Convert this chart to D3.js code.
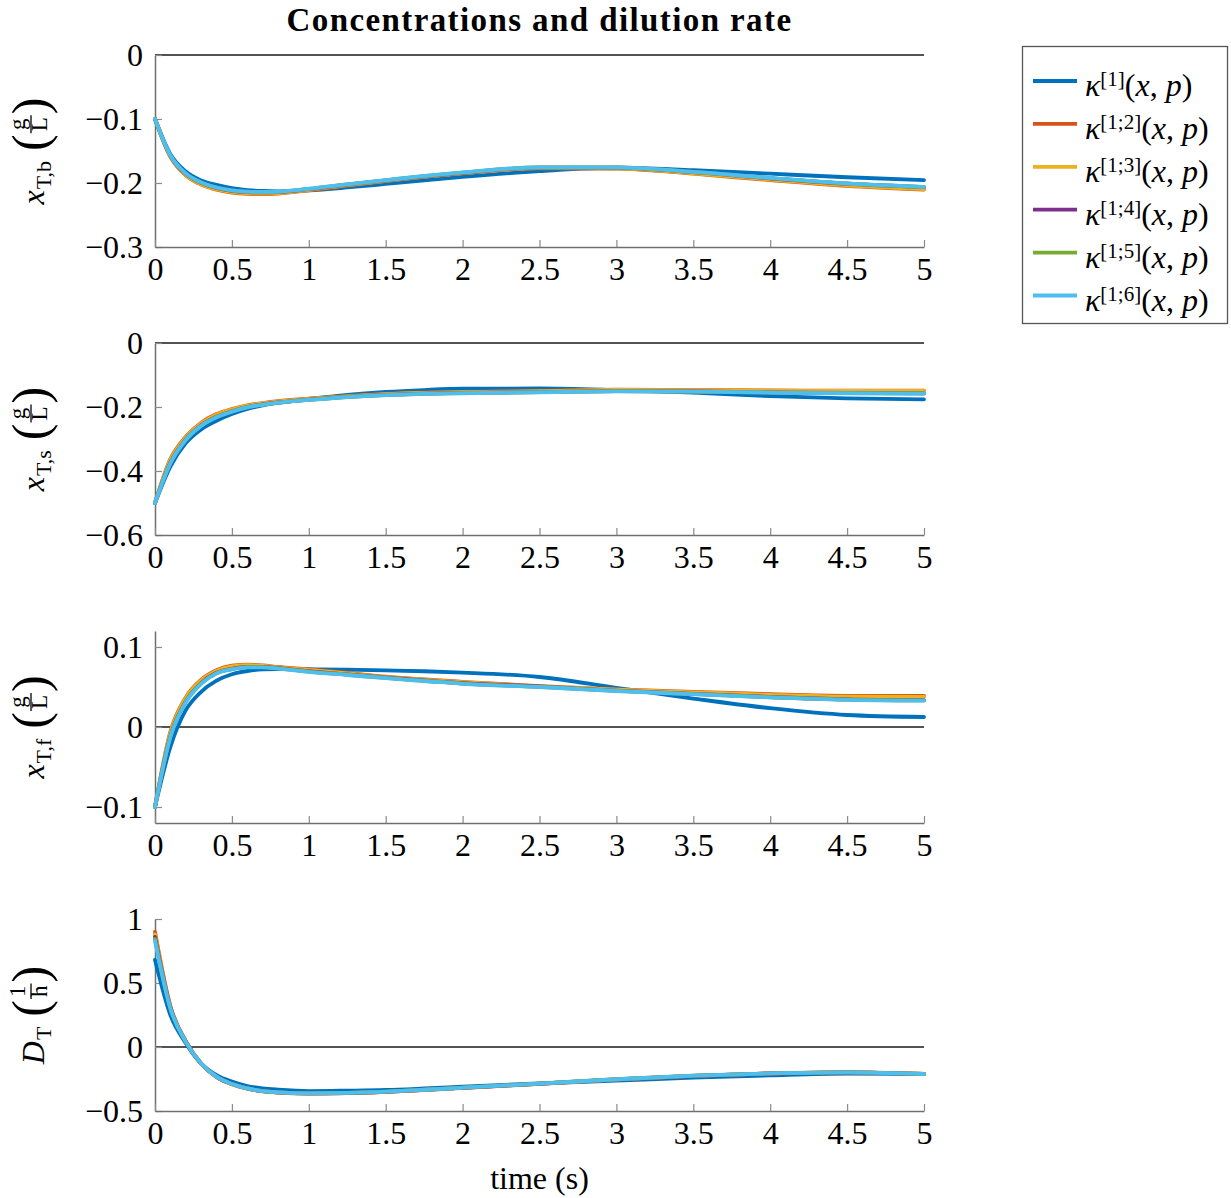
<!DOCTYPE html>
<html>
<head>
<meta charset="utf-8">
<script src="https://cdn.jsdelivr.net/npm/d3@7"></script>
<style>
  html, body { margin: 0; padding: 0; background: #fff; }
  svg { display: block; }
  text { font-family: "Liberation Serif", "Times New Roman", serif; fill: #000; }
</style>
</head>
<body>
<svg id="chart" width="1231" height="1198"></svg>
<script>
// Sample times (s)
const time = [0, 0.1, 0.2, 0.3, 0.4, 0.5, 0.6, 0.7, 0.8, 1.0, 1.25, 1.5, 1.75, 2.0, 2.5, 3.0, 3.5, 4.0, 4.5, 5.0];

// Controller labels (superscripts of kappa) and colours
const controllerTags = ["[1]", "[1;2]", "[1;3]", "[1;4]", "[1;5]", "[1;6]"];
const seriesColors = ["#0072BD", "#D95319", "#EDB120", "#7E2F8E", "#77AC30", "#4DBEEE"];

// x_T,b (g/L)
const xbK1  = [-0.100, -0.155, -0.182, -0.196, -0.203, -0.208, -0.211, -0.2125, -0.213, -0.2115, -0.207, -0.2015, -0.1958, -0.1905, -0.1815, -0.1760, -0.1800, -0.1855, -0.1910, -0.1955];
const xbK12 = [-0.100, -0.159, -0.188, -0.2025, -0.2105, -0.215, -0.217, -0.2175, -0.2165, -0.2115, -0.204, -0.197, -0.1905, -0.185, -0.177, -0.1775, -0.1855, -0.1955, -0.2045, -0.2105];
const xbK13 = [-0.100, -0.1585, -0.1875, -0.2018, -0.2098, -0.2142, -0.2162, -0.2167, -0.2158, -0.2108, -0.2034, -0.1965, -0.1900, -0.1846, -0.1767, -0.1771, -0.1848, -0.1947, -0.2036, -0.2096];
const xbK14 = [-0.100, -0.1575, -0.1857, -0.1996, -0.2076, -0.2121, -0.2141, -0.2146, -0.2141, -0.2096, -0.2026, -0.1961, -0.1896, -0.1841, -0.1761, -0.1761, -0.1831, -0.1926, -0.2011, -0.2066];
const xbK15 = [-0.100, -0.1572, -0.1853, -0.1993, -0.2073, -0.2118, -0.2138, -0.2143, -0.2138, -0.2093, -0.2023, -0.1958, -0.1893, -0.1838, -0.1758, -0.1758, -0.1828, -0.1923, -0.2008, -0.2063];
const xbK16 = [-0.100, -0.157, -0.185, -0.199, -0.207, -0.2115, -0.2135, -0.214, -0.2135, -0.209, -0.202, -0.1955, -0.189, -0.1835, -0.1755, -0.1755, -0.1825, -0.192, -0.2005, -0.206];

// x_T,s (g/L)
const xsK1  = [-0.5, -0.386, -0.313, -0.270, -0.243, -0.222, -0.206, -0.195, -0.187, -0.175, -0.162, -0.153, -0.147, -0.143, -0.142, -0.147, -0.155, -0.166, -0.173, -0.176];
const xsK12 = [-0.5, -0.363, -0.293, -0.249, -0.222, -0.2065, -0.195, -0.188, -0.182, -0.174, -0.166, -0.159, -0.155, -0.153, -0.150, -0.146, -0.147, -0.148, -0.149, -0.149];
const xsK13 = [-0.5, -0.366, -0.295, -0.251, -0.224, -0.208, -0.196, -0.189, -0.183, -0.175, -0.1665, -0.1598, -0.1558, -0.1538, -0.1508, -0.1468, -0.1478, -0.1490, -0.1500, -0.1500];
const xsK14 = [-0.5, -0.374, -0.3015, -0.2575, -0.2305, -0.2133, -0.2000, -0.1920, -0.1857, -0.1772, -0.1683, -0.1623, -0.1583, -0.1563, -0.1533, -0.1503, -0.1513, -0.1543, -0.1563, -0.1573];
const xsK15 = [-0.5, -0.375, -0.3022, -0.2582, -0.2312, -0.2140, -0.2005, -0.1925, -0.1861, -0.1776, -0.1687, -0.1627, -0.1587, -0.1567, -0.1537, -0.1507, -0.1517, -0.1547, -0.1567, -0.1577];
const xsK16 = [-0.5, -0.376, -0.303, -0.259, -0.232, -0.2146, -0.201, -0.193, -0.1865, -0.178, -0.169, -0.163, -0.159, -0.157, -0.154, -0.151, -0.152, -0.155, -0.157, -0.158];

// x_T,f (g/L)
const xfK1  = [-0.1, -0.025, 0.021, 0.044, 0.058, 0.066, 0.070, 0.072, 0.0724, 0.0722, 0.0716, 0.0708, 0.0697, 0.0680, 0.0625, 0.0490, 0.0356, 0.0235, 0.0150, 0.0125];
const xfK12 = [-0.1, -0.006, 0.037, 0.059, 0.071, 0.0766, 0.078, 0.077, 0.075, 0.072, 0.0675, 0.0628, 0.0595, 0.0565, 0.051, 0.047, 0.044, 0.041, 0.039, 0.039];
const xfK13 = [-0.1, -0.0075, 0.036, 0.058, 0.070, 0.0758, 0.0773, 0.0765, 0.0745, 0.0715, 0.0670, 0.0623, 0.0590, 0.0560, 0.0506, 0.0466, 0.0434, 0.0402, 0.0380, 0.0376];
const xfK14 = [-0.1, -0.0115, 0.032, 0.0548, 0.0677, 0.0727, 0.0751, 0.0751, 0.0736, 0.0697, 0.0657, 0.0616, 0.0581, 0.0547, 0.0506, 0.0455, 0.0415, 0.0375, 0.0345, 0.0335];
const xfK15 = [-0.1, -0.012, 0.0315, 0.0544, 0.0673, 0.0723, 0.0748, 0.0748, 0.0733, 0.0693, 0.0653, 0.0613, 0.0578, 0.0543, 0.0503, 0.0452, 0.0412, 0.0372, 0.0342, 0.0332];
const xfK16 = [-0.1, -0.0125, 0.031, 0.054, 0.067, 0.072, 0.0745, 0.0745, 0.073, 0.069, 0.065, 0.061, 0.0575, 0.054, 0.050, 0.045, 0.041, 0.037, 0.034, 0.033];

// D_T (1/h)
const dK1  = [0.68, 0.25, 0.030, -0.130, -0.220, -0.270, -0.305, -0.323, -0.333, -0.344, -0.341, -0.336, -0.324, -0.310, -0.284, -0.263, -0.240, -0.221, -0.208, -0.211];
const dK12 = [0.90, 0.32, 0.045, -0.130, -0.234, -0.290, -0.325, -0.346, -0.356, -0.364, -0.361, -0.351, -0.336, -0.320, -0.288, -0.254, -0.226, -0.207, -0.198, -0.211];
const dK13 = [0.88, 0.315, 0.044, -0.129, -0.233, -0.290, -0.324, -0.345, -0.355, -0.363, -0.360, -0.350, -0.335, -0.319, -0.287, -0.253, -0.225, -0.206, -0.197, -0.210];
const dK14 = [0.86, 0.31, 0.043, -0.129, -0.233, -0.289, -0.324, -0.345, -0.355, -0.363, -0.360, -0.350, -0.335, -0.319, -0.287, -0.253, -0.225, -0.207, -0.198, -0.211];
const dK15 = [0.845, 0.305, 0.042, -0.128, -0.232, -0.289, -0.323, -0.344, -0.354, -0.362, -0.359, -0.349, -0.334, -0.318, -0.286, -0.252, -0.224, -0.206, -0.198, -0.211];
const dK16 = [0.83, 0.30, 0.040, -0.128, -0.232, -0.289, -0.323, -0.344, -0.354, -0.362, -0.359, -0.349, -0.334, -0.318, -0.286, -0.252, -0.224, -0.206, -0.198, -0.211];

// Tick values and labels
const xTicks = [0, 0.5, 1, 1.5, 2, 2.5, 3, 3.5, 4, 4.5, 5];
const xTickLabels = ["0", "0.5", "1", "1.5", "2", "2.5", "3", "3.5", "4", "4.5", "5"];

const panels = [
  { series: [xbK1, xbK12, xbK13, xbK14, xbK15, xbK16], domain: [-0.3, 0],
    ticks: [-0.3, -0.2, -0.1, 0], tickLabels: ["\u22120.3", "\u22120.2", "\u22120.1", "0"],
    sym: "x", sub: "T,b", num: "g", den: "L" },
  { series: [xsK1, xsK12, xsK13, xsK14, xsK15, xsK16], domain: [-0.6, 0],
    ticks: [-0.6, -0.4, -0.2, 0], tickLabels: ["\u22120.6", "\u22120.4", "\u22120.2", "0"],
    sym: "x", sub: "T,s", num: "g", den: "L" },
  { series: [xfK1, xfK12, xfK13, xfK14, xfK15, xfK16], domain: [-0.12, 0.12],
    ticks: [-0.1, 0, 0.1], tickLabels: ["\u22120.1", "0", "0.1"],
    sym: "x", sub: "T,f", num: "g", den: "L" },
  { series: [dK1, dK12, dK13, dK14, dK15, dK16], domain: [-0.5, 1],
    ticks: [-0.5, 0, 0.5, 1], tickLabels: ["\u22120.5", "0", "0.5", "1"],
    sym: "D", sub: "T", num: "1", den: "h" }
];

// Layout
const plotLeft = 155, plotRight = 924;
const panelTops = [55, 343, 631, 919];
const panelHeight = 192;
const tickFont = 32;

const svg = d3.select("#chart");

const x = d3.scaleLinear().domain([0, 5]).range([plotLeft, plotRight]);

// Title
svg.append("text")
  .attr("x", (plotLeft + plotRight) / 2).attr("y", 31)
  .attr("text-anchor", "middle")
  .attr("font-weight", "bold").attr("font-size", 33)
  .attr("letter-spacing", 1.4)
  .text("Concentrations and dilution rate");

function drawYLabel(parent, cx, cy, p) {
  const g = parent.append("g").attr("transform", `translate(${cx},${cy}) rotate(-90)`);
  const inner = g.append("g");
  let u = 0;
  const sym = inner.append("text").attr("x", u).attr("y", 0)
    .attr("font-style", "italic").attr("font-size", 32).text(p.sym);
  u += sym.node().getComputedTextLength() + 1;
  const sub = inner.append("text").attr("x", u).attr("y", 7)
    .attr("font-size", 22).text(p.sub);
  u += sub.node().getComputedTextLength() + 10;
  const lp = inner.append("text").attr("x", u).attr("y", 3)
    .attr("font-size", 50).text("(");
  u += lp.node().getComputedTextLength() + 1;
  const num = inner.append("text").attr("font-size", 23).attr("text-anchor", "middle").text(p.num);
  const den = inner.append("text").attr("font-size", 23).attr("text-anchor", "middle").text(p.den);
  const fw = Math.max(num.node().getComputedTextLength(), den.node().getComputedTextLength()) + 4;
  num.attr("x", u + fw / 2).attr("y", -19);
  den.attr("x", u + fw / 2).attr("y", 3);
  inner.append("line").attr("x1", u).attr("x2", u + fw)
    .attr("y1", -13).attr("y2", -13).attr("stroke", "#000").attr("stroke-width", 1.3);
  u += fw + 1;
  const rp = inner.append("text").attr("x", u).attr("y", 3)
    .attr("font-size", 50).text(")");
  u += rp.node().getComputedTextLength();
  inner.attr("transform", `translate(${-u / 2},0)`);
}

panels.forEach((p, i) => {
  const top = panelTops[i], bottom = top + panelHeight;
  const y = d3.scaleLinear().domain(p.domain).range([bottom, top]);
  const g = svg.append("g");

  // zero reference line
  g.append("line")
    .attr("x1", plotLeft).attr("x2", plotRight)
    .attr("y1", y(0)).attr("y2", y(0))
    .attr("stroke", "#1a1a1a").attr("stroke-width", 1.4);

  // left axis with inward ticks
  const yAxis = d3.axisLeft(y).tickValues(p.ticks)
    .tickFormat((d, k) => p.tickLabels[k])
    .tickSizeInner(-7).tickSizeOuter(0).tickPadding(12);
  const ya = g.append("g").attr("transform", `translate(${plotLeft},0)`).call(yAxis);

  // bottom axis with inward ticks
  const xAxis = d3.axisBottom(x).tickValues(xTicks)
    .tickFormat((d, k) => xTickLabels[k])
    .tickSizeInner(-7).tickSizeOuter(0).tickPadding(10);
  const xa = g.append("g").attr("transform", `translate(0,${bottom})`).call(xAxis);

  [ya, xa].forEach(a => {
    a.select(".domain").attr("stroke", "#6f6f6f").attr("stroke-width", 1.5);
    a.selectAll(".tick line").attr("stroke", "#8a8a8a").attr("stroke-width", 1.2);
    a.selectAll(".tick text")
      .attr("font-family", "'Liberation Serif', serif")
      .attr("font-size", tickFont).attr("fill", "#000");
  });

  // curves
  const line = d3.line()
    .x((d, k) => x(time[k]))
    .y(d => y(d))
    .curve(d3.curveMonotoneX);
  p.series.forEach((s, k) => {
    g.append("path")
      .datum(s)
      .attr("d", line)
      .attr("fill", "none")
      .attr("stroke", seriesColors[k])
      .attr("stroke-width", 3.8)
      .attr("stroke-linejoin", "round")
      .attr("stroke-linecap", "round");
  });

  drawYLabel(svg, 44, (top + bottom) / 2, p);
});

// x-axis title
svg.append("text")
  .attr("x", (plotLeft + plotRight) / 2).attr("y", 1189)
  .attr("text-anchor", "middle").attr("font-size", 32)
  .text("time (s)");

// Legend
const legend = svg.append("g");
legend.append("rect")
  .attr("x", 1022.5).attr("y", 46.5).attr("width", 205).attr("height", 277)
  .attr("fill", "#fff").attr("stroke", "#555").attr("stroke-width", 1.3);
controllerTags.forEach((tag, k) => {
  const ly = 81 + k * 42.9;
  legend.append("line")
    .attr("x1", 1033).attr("x2", 1077).attr("y1", ly).attr("y2", ly)
    .attr("stroke", seriesColors[k]).attr("stroke-width", 3.8);
  const t = legend.append("text").attr("x", 1085).attr("y", ly + 15).attr("font-size", 32);
  t.append("tspan").attr("font-style", "italic").text("\u03BA");
  t.append("tspan").attr("font-size", 21).attr("dy", -10).text(tag);
  t.append("tspan").attr("dy", 10).text("(");
  t.append("tspan").attr("font-style", "italic").text("x");
  t.append("tspan").text(", ");
  t.append("tspan").attr("font-style", "italic").text("p");
  t.append("tspan").text(")");
});
</script>
</body>
</html>
